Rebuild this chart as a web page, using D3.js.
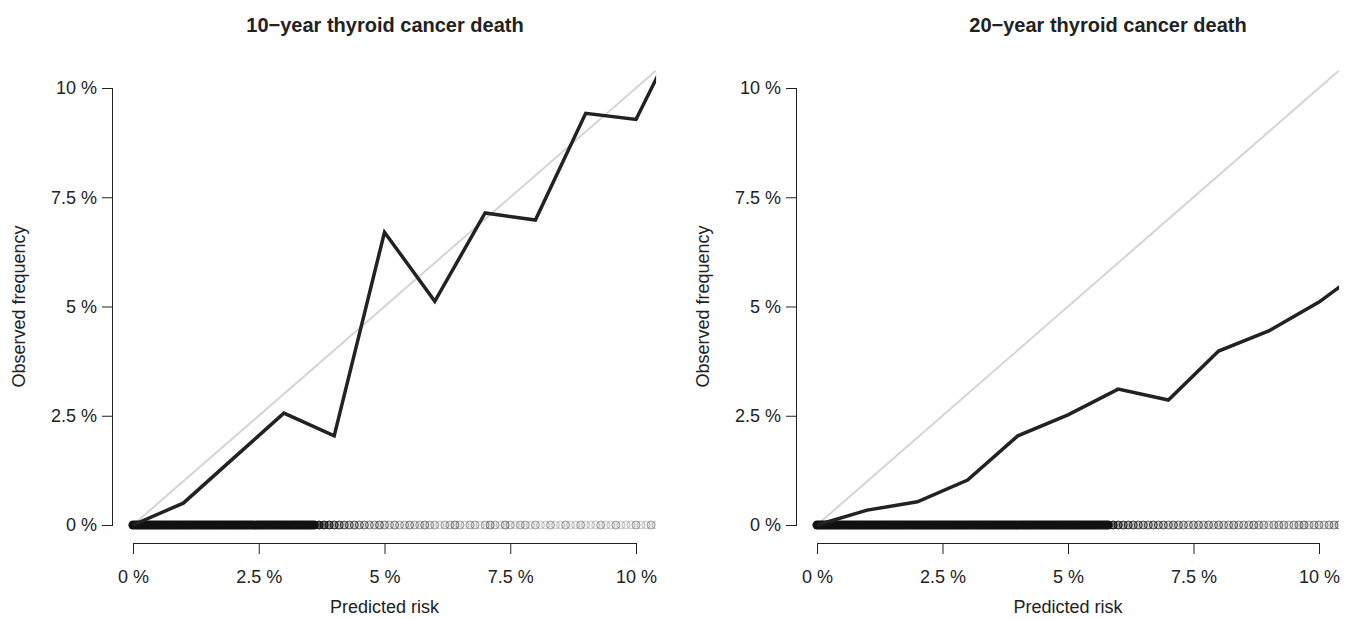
<!DOCTYPE html>
<html>
<head>
<meta charset="utf-8">
<script src="https://cdn.jsdelivr.net/npm/d3@7"></script>
<style>
  body { margin: 0; background: #fff; }
  svg { font-family: "Liberation Sans", Arial, sans-serif; }
  .tick text { font-size: 18px; fill: #222; }
  .axis-label { font-size: 18px; fill: #222; }
  .chart-title { font-size: 20px; font-weight: bold; fill: #222; }
</style>
</head>
<body>
<div id="chart"></div>
<script>
// predicted risk (%) at which the calibration curve is evaluated
const riskPoints = [0, 1, 2, 3, 4, 5, 6, 7, 8, 9, 10, 11];
const observed10 = [0, 0.5, 1.53, 2.56, 2.04, 6.7, 5.12, 7.14, 6.98, 9.42, 9.28, 11.6];
const observed20 = [0, 0.34, 0.53, 1.03, 2.04, 2.52, 3.11, 2.86, 3.98, 4.44, 5.1, 5.95];

const tickValues = [0, 2.5, 5, 7.5, 10];
const tickLabels = ["0 %", "2.5 %", "5 %", "7.5 %", "10 %"];

// rug of predictions: dense part (many patients per position) ...
const rugDense10 = [
  0.00, 0.05, 0.10, 0.15, 0.20, 0.25, 0.30, 0.35, 0.40, 0.45,
  0.50, 0.55, 0.60, 0.65, 0.70, 0.75, 0.80, 0.85, 0.90, 0.95,
  1.00, 1.05, 1.10, 1.15, 1.20, 1.25, 1.30, 1.35, 1.40, 1.45,
  1.50, 1.55, 1.60, 1.65, 1.70, 1.75, 1.80, 1.85, 1.90, 1.95,
  2.00, 2.05, 2.10, 2.15, 2.20, 2.25, 2.30, 2.35, 2.40, 2.45,
  2.50, 2.55, 2.60, 2.65, 2.70, 2.75, 2.80, 2.85, 2.90, 2.95,
  3.00, 3.05, 3.10, 3.15, 3.20, 3.25, 3.30, 3.35, 3.40, 3.45,
  3.50, 3.55, 3.60
];
// ... and sparse part with the number of patients at each position
const rugSparse10 = [
  3.7, 3.8, 3.9, 4.0, 4.1, 4.2, 4.3, 4.4, 4.5, 4.6, 4.7, 4.8, 4.9,
  5.0, 5.1, 5.2, 5.3, 5.4, 5.5, 5.6, 5.7, 5.8, 5.9,
  6.0, 6.1, 6.2, 6.3, 6.4, 6.5, 6.6, 6.7, 6.8, 6.9,
  7.0, 7.1, 7.2, 7.3, 7.4, 7.5, 7.6, 7.7, 7.8, 7.9,
  8.0, 8.1, 8.2, 8.3, 8.4, 8.5, 8.6, 8.7, 8.8, 8.9,
  9.0, 9.1, 9.2, 9.3, 9.4, 9.5, 9.6, 9.7, 9.8, 9.9,
  10.0, 10.1, 10.2, 10.3, 10.4
];
const rugSparseN10 = [
  30, 20, 14, 10, 8, 6, 5, 5, 4, 4, 3, 3, 4,
  3, 2, 3, 2, 2, 3, 2, 2, 3, 2,
  2, 1, 2, 2, 3, 2, 1, 2, 2, 1,
  2, 3, 2, 1, 3, 2, 1, 2, 2, 1,
  2, 1, 1, 2, 1, 1, 2, 1, 1, 2,
  1, 1, 1, 2, 1, 1, 2, 1, 1, 1,
  2, 1, 1, 2, 1
];

const rugDense20 = [
  0.00, 0.05, 0.10, 0.15, 0.20, 0.25, 0.30, 0.35, 0.40, 0.45,
  0.50, 0.55, 0.60, 0.65, 0.70, 0.75, 0.80, 0.85, 0.90, 0.95,
  1.00, 1.05, 1.10, 1.15, 1.20, 1.25, 1.30, 1.35, 1.40, 1.45,
  1.50, 1.55, 1.60, 1.65, 1.70, 1.75, 1.80, 1.85, 1.90, 1.95,
  2.00, 2.05, 2.10, 2.15, 2.20, 2.25, 2.30, 2.35, 2.40, 2.45,
  2.50, 2.55, 2.60, 2.65, 2.70, 2.75, 2.80, 2.85, 2.90, 2.95,
  3.00, 3.05, 3.10, 3.15, 3.20, 3.25, 3.30, 3.35, 3.40, 3.45,
  3.50, 3.55, 3.60, 3.65, 3.70, 3.75, 3.80, 3.85, 3.90, 3.95,
  4.00, 4.05, 4.10, 4.15, 4.20, 4.25, 4.30, 4.35, 4.40, 4.45,
  4.50, 4.55, 4.60, 4.65, 4.70, 4.75, 4.80, 4.85, 4.90, 4.95,
  5.00, 5.05, 5.10, 5.15, 5.20, 5.25, 5.30, 5.35, 5.40, 5.45,
  5.50, 5.55, 5.60, 5.65, 5.70, 5.75, 5.80
];
const rugSparse20 = [
  5.9, 6.0, 6.1, 6.2, 6.3, 6.4, 6.5, 6.6, 6.7, 6.8, 6.9,
  7.0, 7.1, 7.2, 7.3, 7.4, 7.5, 7.6, 7.7, 7.8, 7.9,
  8.0, 8.1, 8.2, 8.3, 8.4, 8.5, 8.6, 8.7, 8.8, 8.9,
  9.0, 9.1, 9.2, 9.3, 9.4, 9.5, 9.6, 9.7, 9.8, 9.9,
  10.0, 10.1, 10.2, 10.3, 10.4
];
const rugSparseN20 = [
  20, 12, 9, 8, 7, 6, 6, 5, 6, 5, 5,
  4, 5, 4, 4, 3, 4, 4, 3, 4, 3,
  4, 3, 3, 4, 3, 3, 3, 4, 3, 3,
  2, 3, 3, 3, 2, 3, 3, 4, 2, 3,
  3, 2, 3, 3, 3
];
const denseN = 80;

const panels = [
  { title: "10\u2212year thyroid cancer death", observed: observed10,
    dense: rugDense10, sparse: rugSparse10, sparseN: rugSparseN10,
    left: 133, right: 636, axisX: 113, titleX: 385 },
  { title: "20\u2212year thyroid cancer death", observed: observed20,
    dense: rugDense20, sparse: rugSparse20, sparseN: rugSparseN20,
    left: 817, right: 1319, axisX: 797, titleX: 1108 }
];

const W = 1351, H = 619;
const yTop = 88, yBottom = 525, xAxisY = 543;

const svg = d3.select("#chart").append("svg")
  .attr("width", W)
  .attr("height", H);

panels.forEach((p, idx) => {
  const x = d3.scaleLinear().domain([0, 10]).range([p.left, p.right]);
  const y = d3.scaleLinear().domain([0, 10]).range([yBottom, yTop]);

  const g = svg.append("g");

  // plot region (R style: 4% padding on both ends)
  const clipId = "clip" + idx;
  svg.append("clipPath").attr("id", clipId)
    .append("rect")
    .attr("x", x(-0.4))
    .attr("y", y(10.4))
    .attr("width", x(10.4) - x(-0.4))
    .attr("height", y(-0.4) - y(10.4));

  const plot = g.append("g").attr("clip-path", `url(#${clipId})`);

  // ideal calibration diagonal
  plot.append("line")
    .attr("x1", x(0)).attr("y1", y(0))
    .attr("x2", x(11)).attr("y2", y(11))
    .attr("stroke", "#d4d4d4")
    .attr("stroke-width", 2);

  // rug of predictions at 0 %
  const rugData = p.dense.map(r => ({ risk: r, n: denseN }))
    .concat(p.sparse.map((r, i) => ({ risk: r, n: p.sparseN[i] })));
  plot.selectAll(".rug")
    .data(rugData)
    .enter()
    .append("circle")
    .attr("class", "rug")
    .attr("cx", d => x(d.risk))
    .attr("cy", y(0))
    .attr("r", d => d.n >= denseN ? 4.6 : 4)
    .attr("fill", "#111")
    .attr("fill-opacity", d => d.n >= denseN ? 1 : 1 - Math.pow(0.96, d.n))
    .attr("stroke", "#111")
    .attr("stroke-opacity", d => 1 - Math.pow(0.8, d.n))
    .attr("stroke-width", d => d.n >= denseN ? 0 : 1);

  // observed calibration curve
  const line = d3.line()
    .x((d, i) => x(riskPoints[i]))
    .y(d => y(d));
  plot.append("path")
    .datum(p.observed)
    .attr("fill", "none")
    .attr("stroke", "#222")
    .attr("stroke-width", 3.5)
    .attr("stroke-linejoin", "miter")
    .attr("d", line);

  // axes
  const fmt = d => tickLabels[tickValues.indexOf(d)];
  const xAxis = d3.axisBottom(x).tickValues(tickValues).tickFormat(fmt).tickSize(11).tickPadding(16);
  g.append("g")
    .attr("transform", `translate(0,${xAxisY})`)
    .call(xAxis)
    .call(s => s.select(".domain").attr("d", `M${x(0)},0.5H${x(10)}`));

  const yAxis = d3.axisLeft(y).tickValues(tickValues).tickFormat(fmt).tickSize(11).tickPadding(5);
  g.append("g")
    .attr("transform", `translate(${p.axisX},0)`)
    .call(yAxis)
    .call(s => s.select(".domain").attr("d", `M-0.5,${y(0)}V${y(10)}`));

  g.selectAll(".domain, .tick line").attr("stroke", "#222");

  // labels
  g.append("text")
    .attr("class", "axis-label")
    .attr("x", x(5))
    .attr("y", 613)
    .attr("text-anchor", "middle")
    .text("Predicted risk");

  g.append("text")
    .attr("class", "axis-label")
    .attr("transform", `translate(${p.axisX - 88},${y(5)}) rotate(-90)`)
    .attr("text-anchor", "middle")
    .text("Observed frequency");

  g.append("text")
    .attr("class", "chart-title")
    .attr("x", p.titleX)
    .attr("y", 32)
    .attr("text-anchor", "middle")
    .text(p.title);
});
</script>
</body>
</html>
